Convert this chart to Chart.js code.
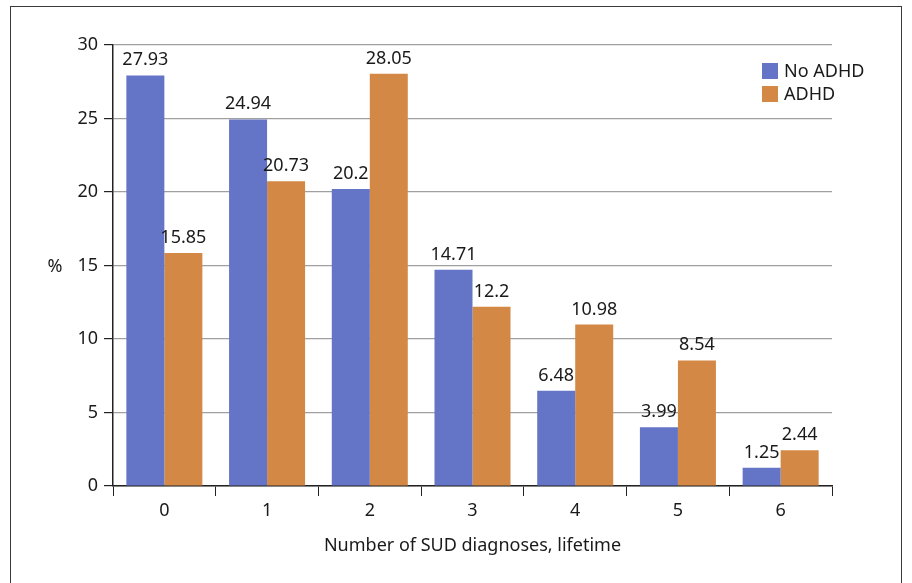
<!DOCTYPE html>
<html><head><meta charset="utf-8">
<script src="https://cdn.jsdelivr.net/npm/chart.js@4"></script>
<style>
html,body{margin:0;padding:0;background:#fff;}
#wrap{position:relative;width:912px;height:583px;overflow:hidden;}
#frame{position:absolute;left:10px;top:6px;width:892px;height:620px;border:1.5px solid #3a3a3a;box-sizing:border-box;}
canvas{position:absolute;left:0;top:0;}
</style></head>
<body>
<div id="wrap"><div id="frame"></div><canvas id="c" width="912" height="583"></canvas></div>
<script>
const categories = ['0','1','2','3','4','5','6'];
const noAdhd = [27.93, 24.94, 20.2, 14.71, 6.48, 3.99, 1.25];
const adhd = [15.85, 20.73, 28.05, 12.2, 10.98, 8.54, 2.44];
const seriesNames = ['No ADHD', 'ADHD'];
const yTicks = [0, 5, 10, 15, 20, 25, 30];
const xTitle = 'Number of SUD diagnoses, lifetime';
const yTitle = '%';

const FONT = '"Noto Sans", "Open Sans", sans-serif';
const TXT = '#1a1a1a';

const labelPlugin = {
  id: 'barLabels',
  afterDatasetsDraw(chart) {
    const ctx = chart.ctx;
    ctx.save();
    ctx.font = '18px ' + FONT;
    ctx.fillStyle = TXT;
    ctx.textAlign = 'center';
    ctx.textBaseline = 'alphabetic';
    chart.data.datasets.forEach((ds, i) => {
      const meta = chart.getDatasetMeta(i);
      meta.data.forEach((bar, j) => {
        ctx.fillText(String(ds.data[j]), bar.x, bar.y - 10);
      });
    });
    ctx.restore();
  }
};

const legendPlugin = {
  id: 'customLegend',
  afterDraw(chart) {
    const ctx = chart.ctx;
    ctx.save();
    ctx.font = '18px ' + FONT;
    ctx.textBaseline = 'middle';
    ctx.textAlign = 'left';
    chart.data.datasets.forEach((ds, i) => {
      const y = 71 + i * 23;
      ctx.fillStyle = ds.backgroundColor;
      ctx.fillRect(762, y - 8, 16, 16);
      ctx.fillStyle = TXT;
      ctx.fillText(ds.label, 784, y + 1);
    });
    // upright y-axis title
    const ys = chart.scales.y;
    ctx.textAlign = 'center';
    ctx.fillText(yTitle, 55, (ys.top + ys.bottom) / 2 + 1);
    ctx.restore();
  }
};

new Chart(document.getElementById('c'), {
  type: 'bar',
  data: {
    labels: categories,
    datasets: [
      { label: seriesNames[0], data: noAdhd, backgroundColor: '#6474C6' },
      { label: seriesNames[1], data: adhd, backgroundColor: '#D38845' }
    ]
  },
  options: {
    responsive: false,
    animation: false,
    events: [],
    layout: { padding: { left: 43, right: 80, top: 45, bottom: 18 } },
    datasets: { bar: { categoryPercentage: 0.74, barPercentage: 1.0 } },
    plugins: { legend: { display: false }, tooltip: { enabled: false } },
    scales: {
      x: {
        afterFit(s) { s.height = 79; },
        grid: { display: true, offset: true, drawOnChartArea: false, drawTicks: true, tickLength: 10, color: '#222', tickColor: '#222' },
        border: { display: true, color: '#222', width: 1.5 },
        ticks: { color: TXT, font: { family: FONT, size: 18 }, padding: 4 },
        title: { display: true, text: xTitle, color: TXT, font: { family: FONT, size: 18 }, padding: { top: 0, bottom: 8 } }
      },
      y: {
        min: 0, max: 30,
        afterFit(s) { s.width = 70; },
        afterBuildTicks(s) { s.ticks = yTicks.map(v => ({ value: v })); },
        grid: { color: '#a0a0a0', lineWidth: 1.2, tickLength: 9, tickColor: '#222' },
        border: { display: true, color: '#222', width: 1.5 },
        ticks: { color: TXT, font: { family: FONT, size: 18 }, padding: 6 },
        title: { display: false }
      }
    }
  },
  plugins: [labelPlugin, legendPlugin]
});
</script>
</body></html>
